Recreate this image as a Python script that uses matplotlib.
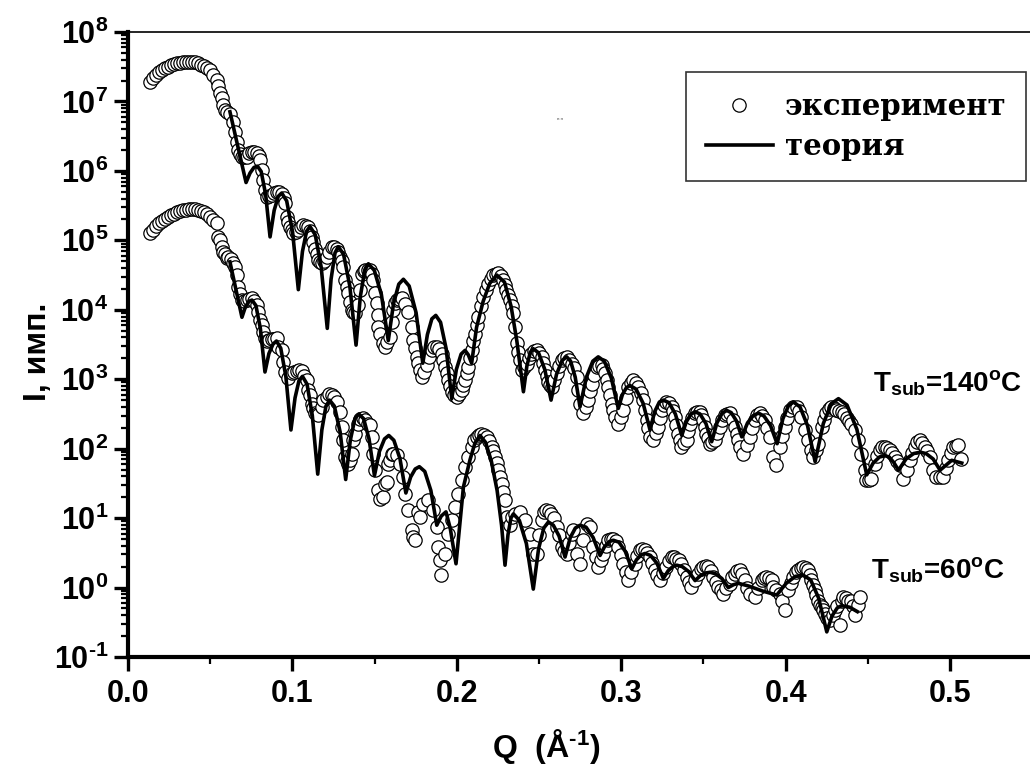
import numpy as np
import matplotlib
matplotlib.use('Agg')
import matplotlib.pyplot as plt
from matplotlib.ticker import LogLocator, FuncFormatter, MultipleLocator, NullFormatter

plt.rcParams['font.family'] = ['Liberation Sans', 'DejaVu Sans']
plt.rcParams['font.weight'] = 'bold'
plt.rcParams['mathtext.fontset'] = 'custom'
plt.rcParams['mathtext.rm'] = 'Liberation Sans:bold'
plt.rcParams['mathtext.it'] = 'Liberation Sans:bold'
plt.rcParams['mathtext.bf'] = 'Liberation Sans:bold'

### experiment, T_sub = 140 C
exp140_q = [0.0134, 0.0152, 0.0170, 0.0189, 0.0207, 0.0225, 0.0243, 0.0262, 0.0280, 0.0298, 0.0316, 0.0335,
            0.0353, 0.0371, 0.0389, 0.0408, 0.0426, 0.0444, 0.0462, 0.0481, 0.0499, 0.0519, 0.0540, 0.0550,
            0.0560, 0.0570, 0.0580, 0.0590, 0.0605, 0.0620, 0.0641, 0.0651, 0.0661, 0.0671, 0.0681, 0.0692,
            0.0706, 0.0722, 0.0736, 0.0752, 0.0766, 0.0783, 0.0794, 0.0803, 0.0813, 0.0823, 0.0833, 0.0844,
            0.0858, 0.0874, 0.0888, 0.0905, 0.0918, 0.0935, 0.0946, 0.0955, 0.0965, 0.0975, 0.0985, 0.0996,
            0.1005, 0.1019, 0.1036, 0.1051, 0.1066, 0.1082, 0.1097, 0.1107, 0.1117, 0.1127, 0.1137, 0.1148,
            0.1158, 0.1168, 0.1178, 0.1192, 0.1209, 0.1223, 0.1239, 0.1253, 0.1269, 0.1280, 0.1290, 0.1300,
            0.1310, 0.1320, 0.1330, 0.1340, 0.1350, 0.1361, 0.1371, 0.1381, 0.1396, 0.1411, 0.1422, 0.1433,
            0.1443, 0.1457, 0.1472, 0.1482, 0.1492, 0.1502, 0.1513, 0.1518, 0.1522, 0.1535, 0.1550, 0.1563,
            0.1578, 0.1593, 0.1603, 0.1613, 0.1623, 0.1634, 0.1648, 0.1664, 0.1684, 0.1704, 0.1725, 0.1735,
            0.1745, 0.1755, 0.1765, 0.1775, 0.1786, 0.1800, 0.1816, 0.1830, 0.1846, 0.1860, 0.1877, 0.1891,
            0.1907, 0.1917, 0.1927, 0.1938, 0.1947, 0.1958, 0.1968, 0.1982, 0.1998, 0.2012, 0.2029, 0.2039,
            0.2049, 0.2059, 0.2069, 0.2079, 0.2090, 0.2099, 0.2110, 0.2120, 0.2130, 0.2145, 0.2160, 0.2175,
            0.2191, 0.2206, 0.2221, 0.2236, 0.2251, 0.2267, 0.2282, 0.2292, 0.2302, 0.2312, 0.2323, 0.2333,
            0.2343, 0.2353, 0.2363, 0.2373, 0.2383, 0.2394, 0.2408, 0.2424, 0.2438, 0.2454, 0.2468, 0.2485,
            0.2499, 0.2515, 0.2525, 0.2535, 0.2546, 0.2555, 0.2566, 0.2576, 0.2590, 0.2607, 0.2621, 0.2637,
            0.2652, 0.2667, 0.2681, 0.2698, 0.2712, 0.2728, 0.2738, 0.2748, 0.2768, 0.2784, 0.2799, 0.2809,
            0.2820, 0.2834, 0.2850, 0.2864, 0.2880, 0.2890, 0.2900, 0.2911, 0.2920, 0.2931, 0.2941, 0.2951,
            0.2961, 0.2981, 0.2996, 0.3011, 0.3027, 0.3042, 0.3057, 0.3072, 0.3087, 0.3103, 0.3118, 0.3133,
            0.3143, 0.3154, 0.3163, 0.3174, 0.3194, 0.3209, 0.3224, 0.3234, 0.3245, 0.3259, 0.3275, 0.3289,
            0.3306, 0.3315, 0.3326, 0.3336, 0.3346, 0.3356, 0.3366, 0.3380, 0.3397, 0.3406, 0.3417, 0.3432,
            0.3447, 0.3462, 0.3478, 0.3488, 0.3498, 0.3508, 0.3518, 0.3528, 0.3539, 0.3554, 0.3569, 0.3584,
            0.3599, 0.3615, 0.3630, 0.3645, 0.3660, 0.3680, 0.3691, 0.3701, 0.3711, 0.3721, 0.3741, 0.3762,
            0.3782, 0.3797, 0.3812, 0.3827, 0.3843, 0.3858, 0.3873, 0.3888, 0.3903, 0.3923, 0.3944, 0.3964,
            0.3979, 0.3995, 0.4010, 0.4025, 0.4045, 0.4066, 0.4080, 0.4096, 0.4116, 0.4136, 0.4157, 0.4167,
            0.4183, 0.4197, 0.4218, 0.4232, 0.4248, 0.4262, 0.4278, 0.4293, 0.4309, 0.4323, 0.4340, 0.4354,
            0.4370, 0.4384, 0.4400, 0.4420, 0.4440, 0.4461, 0.4481, 0.4491, 0.4505, 0.4522, 0.4542, 0.4557,
            0.4572, 0.4587, 0.4603, 0.4618, 0.4633, 0.4648, 0.4663, 0.4679, 0.4694, 0.4714, 0.4735, 0.4755,
            0.4770, 0.4785, 0.4800, 0.4815, 0.4830, 0.4846, 0.4861, 0.4876, 0.4896, 0.4917, 0.4937, 0.4957,
            0.4973, 0.4987, 0.5004, 0.5018, 0.5034, 0.5048, 0.5069]
exp140_i = [1.92e7, 2.17e7, 2.40e7, 2.65e7, 2.83e7, 3.03e7, 3.18e7, 3.34e7, 3.46e7, 3.57e7, 3.63e7, 3.70e7,
            3.76e7, 3.76e7, 3.76e7, 3.70e7, 3.57e7, 3.40e7, 3.24e7, 3.03e7, 2.83e7, 2.40e7, 2.03e7, 1.67e7,
            1.31e7, 1.12e7, 8.9e6, 7.5e6, 7.0e6, 6.7e6, 5.1e6, 3.66e6, 2.62e6, 2.0e6, 1.75e6, 1.6e6,
            1.58e6, 1.6e6, 1.81e6, 1.88e6, 1.87e6, 1.79e6, 1.63e6, 1.43e6, 1.03e6, 7.4e5, 5.3e5, 4.2e5,
            4.3e5, 4.5e5, 4.8e5, 5.0e5, 4.9e5, 4.7e5, 4.1e5, 3.4e5, 2.18e5, 1.83e5, 1.56e5, 1.40e5,
            1.26e5, 1.31e5, 1.40e5, 1.55e5, 1.66e5, 1.63e5, 1.57e5, 1.36e5, 1.12e5, 9.4e4, 7.6e4, 6.3e4,
            5.2e4, 4.8e4, 4.65e4, 5.1e4, 5.8e4, 6.9e4, 8.1e4, 8.0e4, 7.6e4, 6.8e4, 5.8e4, 5.0e4,
            4.15e4, 2.67e4, 2.12e4, 1.72e4, 1.29e4, 9.9e3, 9.2e3, 8.9e3, 1.16e4, 1.92e4, 3.3e4, 3.6e4,
            3.7e4, 3.8e4, 3.7e4, 3.26e4, 2.67e4, 1.72e4, 1.24e4, 8.4e3, 5.7e3, 4.45e3, 3.30e3, 2.92e3,
            3.41e3, 4.06e3, 6.6e3, 9.9e3, 1.24e4, 1.37e4, 1.45e4, 1.46e4, 1.23e4, 9.3e3, 5.7e3, 3.65e3,
            2.80e3, 2.10e3, 1.70e3, 1.35e3, 1.08e3, 1.26e3, 1.59e3, 2.07e3, 2.62e3, 2.89e3, 2.92e3, 2.70e3,
            2.34e3, 1.88e3, 1.50e3, 1.22e3, 968, 792, 656, 598, 556, 608, 693, 820,
            968, 1220, 1500, 2010, 2620, 3530, 4550, 6000, 7900, 1.13e4, 1.53e4, 1.91e4,
            2.39e4, 2.76e4, 3.15e4, 3.31e4, 3.33e4, 3.05e4, 2.67e4, 2.26e4, 1.91e4, 1.62e4, 1.37e4, 1.13e4,
            8.9e3, 5.7e3, 3.27e3, 2.45e3, 1.88e3, 1.35e3, 1.49e3, 1.68e3, 2.01e3, 2.34e3, 2.53e3, 2.62e3,
            2.37e3, 2.10e3, 1.70e3, 1.35e3, 1.10e3, 914, 834, 774, 968, 1210, 1540, 1880,
            2040, 2100, 1910, 1680, 1440, 1080, 695, 447, 321, 395, 498, 671,
            867, 1140, 1500, 1570, 1590, 1390, 1210, 968, 774, 588, 447, 357,
            286, 230, 283, 357, 532, 774, 875, 968, 875, 774, 628, 498,
            357, 256, 197, 148, 132, 167, 206, 274, 357, 422, 471, 451,
            399, 346, 286, 217, 165, 132, 106, 120, 132, 178, 230, 274,
            321, 334, 338, 303, 256, 203, 165, 141, 118, 126, 132, 167,
            206, 256, 303, 318, 321, 256, 203, 165, 132, 106, 85, 112,
            148, 197, 256, 303, 321, 293, 256, 197, 148, 76, 58, 106,
            151, 206, 274, 357, 395, 399, 346, 286, 184, 132, 95, 76,
            95, 118, 206, 256, 321, 370, 399, 382, 357, 346, 338, 313,
            272, 248, 230, 184, 132, 85, 49, 35, 35, 37, 61, 78,
            95, 105, 106, 101, 95, 86, 76, 66, 58, 37, 50, 68,
            86, 106, 124, 132, 120, 106, 92, 76, 49, 39, 39, 39,
            52, 68, 86, 106, 110, 112, 72]

### experiment, T_sub = 60 C
exp60_q = [0.0134, 0.0152, 0.0170, 0.0189, 0.0207, 0.0225, 0.0243, 0.0262, 0.0280, 0.0298, 0.0316, 0.0335,
           0.0353, 0.0371, 0.0389, 0.0408, 0.0426, 0.0444, 0.0462, 0.0481, 0.0499, 0.0519, 0.0540, 0.0549,
           0.0560, 0.0570, 0.0580, 0.0590, 0.0600, 0.0610, 0.0626, 0.0640, 0.0651, 0.0661, 0.0671, 0.0681,
           0.0691, 0.0705, 0.0722, 0.0736, 0.0752, 0.0766, 0.0783, 0.0793, 0.0803, 0.0813, 0.0823, 0.0833,
           0.0843, 0.0857, 0.0874, 0.0888, 0.0904, 0.0914, 0.0934, 0.0944, 0.0955, 0.0975, 0.0995, 0.1009,
           0.1026, 0.1040, 0.1056, 0.1070, 0.1087, 0.1096, 0.1107, 0.1117, 0.1127, 0.1137, 0.1147, 0.1157,
           0.1178, 0.1187, 0.1208, 0.1222, 0.1238, 0.1253, 0.1269, 0.1289, 0.1300, 0.1309, 0.1319, 0.1330,
           0.1339, 0.1350, 0.1360, 0.1370, 0.1380, 0.1400, 0.1411, 0.1431, 0.1441, 0.1461, 0.1471, 0.1482,
           0.1491, 0.1502, 0.1522, 0.1532, 0.1552, 0.1563, 0.1573, 0.1583, 0.1593, 0.1603, 0.1613, 0.1634,
           0.1654, 0.1674, 0.1684, 0.1704, 0.1726, 0.1735, 0.1745, 0.1765, 0.1775, 0.1795, 0.1826, 0.1857,
           0.1877, 0.1887, 0.1898, 0.1905, 0.1928, 0.1948, 0.1968, 0.1988, 0.2008, 0.2029, 0.2049, 0.2069,
           0.2090, 0.2104, 0.2120, 0.2134, 0.2150, 0.2164, 0.2181, 0.2195, 0.2211, 0.2221, 0.2231, 0.2242,
           0.2252, 0.2262, 0.2272, 0.2283, 0.2293, 0.2303, 0.2323, 0.2338, 0.2353, 0.2383, 0.2414, 0.2444,
           0.2464, 0.2485, 0.2499, 0.2515, 0.2529, 0.2545, 0.2559, 0.2575, 0.2590, 0.2607, 0.2621, 0.2637,
           0.2652, 0.2667, 0.2681, 0.2698, 0.2707, 0.2728, 0.2748, 0.2768, 0.2789, 0.2809, 0.2830, 0.2845,
           0.2859, 0.2875, 0.2890, 0.2905, 0.2920, 0.2935, 0.2951, 0.2966, 0.2981, 0.2996, 0.3011, 0.3027,
           0.3042, 0.3062, 0.3083, 0.3098, 0.3113, 0.3128, 0.3143, 0.3159, 0.3174, 0.3189, 0.3204, 0.3219,
           0.3234, 0.3254, 0.3275, 0.3289, 0.3306, 0.3320, 0.3336, 0.3350, 0.3366, 0.3380, 0.3397, 0.3411,
           0.3427, 0.3447, 0.3467, 0.3483, 0.3498, 0.3513, 0.3528, 0.3543, 0.3559, 0.3574, 0.3589, 0.3604,
           0.3620, 0.3640, 0.3660, 0.3675, 0.3691, 0.3706, 0.3721, 0.3736, 0.3752, 0.3767, 0.3782, 0.3812,
           0.3832, 0.3853, 0.3867, 0.3883, 0.3897, 0.3914, 0.3924, 0.3944, 0.3964, 0.3979, 0.3995, 0.4015,
           0.4030, 0.4045, 0.4061, 0.4076, 0.4091, 0.4106, 0.4121, 0.4136, 0.4146, 0.4157, 0.4167, 0.4177,
           0.4187, 0.4197, 0.4208, 0.4218, 0.4228, 0.4239, 0.4254, 0.4270, 0.4285, 0.4300, 0.4315, 0.4331,
           0.4340, 0.4350, 0.4366, 0.4381, 0.4396, 0.4411, 0.4421, 0.4437, 0.4453]
exp60_i = [1.26e5, 1.43e5, 1.60e5, 1.77e5, 1.92e5, 2.06e5, 2.19e5, 2.31e5, 2.43e5, 2.55e5, 2.64e5, 2.72e5,
           2.77e5, 2.82e5, 2.82e5, 2.82e5, 2.77e5, 2.68e5, 2.55e5, 2.38e5, 2.18e5, 1.95e5, 1.75e5, 1.12e5,
           1.01e5, 8.1e4, 6.8e4, 6.3e4, 5.6e4, 5.7e4, 5.4e4, 4.65e4, 4.15e4, 3.15e4, 2.14e4, 1.68e4,
           1.37e4, 1.35e4, 1.37e4, 1.45e4, 1.46e4, 1.33e4, 1.16e4, 9.2e3, 7.1e3, 6.0e3, 4.75e3, 3.9e3,
           3.53e3, 3.65e3, 3.84e3, 3.78e3, 3.9e3, 2.92e3, 2.62e3, 1.76e3, 1.26e3, 1.03e3, 1.24e3, 1.28e3,
           1.30e3, 1.35e3, 1.30e3, 1.10e3, 968, 695, 588, 447, 382, 324, 313, 303,
           399, 498, 556, 608, 588, 551, 467, 334, 206, 132, 76, 66,
           61, 68, 85, 132, 165, 230, 265, 272, 256, 230, 217, 148,
           85, 49, 25, 19, 20, 31, 33, 61, 68, 85, 85, 82,
           61, 39, 22.5, 12.9, 6.7, 5.3, 4.8, 12.1, 10.4, 16.2, 18, 12.9,
           7.4, 3.8, 2.47, 1.5, 3.08, 6.0, 9.3, 14.5, 22.5, 35, 54, 76,
           106, 132, 148, 158, 165, 158, 148, 128, 106, 92, 76, 62,
           49, 39, 31, 24, 18, 10.4, 7.9, 10.3, 11.6, 12.2, 9.3, 6.0,
           3.08, 3.08, 5.65, 9.3, 12.1, 12.9, 12.5, 11.6, 9.9, 7.4, 5.65, 3.8,
           3.33, 3.08, 4.34, 6.0, 6.7, 3.08, 2.21, 4.8, 8.3, 7.4, 3.8, 2.72,
           1.97, 2.47, 3.08, 3.93, 4.8, 5.0, 5.07, 4.63, 3.8, 2.91, 2.21, 1.66,
           1.27, 1.66, 2.21, 2.82, 3.44, 3.55, 3.44, 3.11, 2.75, 2.23, 1.77, 1.5,
           1.27, 1.6, 1.97, 2.39, 2.75, 2.72, 2.61, 2.47, 2.21, 1.77, 1.42, 1.19,
           1.02, 1.27, 1.58, 1.83, 1.97, 2.02, 1.97, 1.71, 1.42, 1.19, 1.02, 0.91,
           0.82, 0.97, 1.14, 1.40, 1.58, 1.71, 1.77, 1.55, 1.27, 1.0, 0.82, 0.73,
           0.97, 1.27, 1.36, 1.42, 1.36, 1.27, 1.02, 0.91, 0.82, 0.63, 0.47, 0.91,
           1.15, 1.42, 1.66, 1.77, 1.92, 1.97, 1.89, 1.77, 1.5, 1.27, 1.08, 0.91,
           0.77, 0.65, 0.57, 0.52, 0.47, 0.42, 0.37, 0.34, 0.40, 0.47, 0.55, 0.285,
           0.65, 0.73, 0.70, 0.65, 0.65, 0.55, 0.40, 0.57, 0.73]

### theory, T_sub = 140 C
th140_q = [0.0620, 0.0718, 0.0742, 0.0766, 0.0787, 0.0810, 0.0837, 0.0864, 0.0889, 0.0914, 0.0935, 0.0965,
           0.1001, 0.1036, 0.1061, 0.1086, 0.1107, 0.1139, 0.1175, 0.1212, 0.1235, 0.1259, 0.1279, 0.1311,
           0.1349, 0.1387, 0.1413, 0.1440, 0.1462, 0.1498, 0.1541, 0.1583, 0.1615, 0.1647, 0.1675, 0.1710,
           0.1752, 0.1793, 0.1821, 0.1848, 0.1872, 0.1901, 0.1935, 0.1969, 0.1997, 0.2026, 0.2050, 0.2070,
           0.2090, 0.2120, 0.2160, 0.2200, 0.2243, 0.2290, 0.2330, 0.2365, 0.2390, 0.2405, 0.2426, 0.2447,
           0.2465, 0.2497, 0.2535, 0.2573, 0.2606, 0.2640, 0.2668, 0.2692, 0.2720, 0.2749, 0.2788, 0.2827,
           0.2860, 0.2897, 0.2939, 0.2982, 0.3007, 0.3032, 0.3054, 0.3090, 0.3133, 0.3175, 0.3203, 0.3232,
           0.3256, 0.3290, 0.3329, 0.3368, 0.3396, 0.3425, 0.3449, 0.3479, 0.3515, 0.3550, 0.3582, 0.3614,
           0.3642, 0.3669, 0.3701, 0.3733, 0.3768, 0.3803, 0.3834, 0.3868, 0.3908, 0.3948, 0.3983, 0.4017,
           0.4047, 0.4087, 0.4133, 0.4179, 0.4229, 0.4278, 0.4321, 0.4373, 0.4433, 0.4493, 0.4532, 0.4571,
           0.4605, 0.4629, 0.4658, 0.4686, 0.4732, 0.4778, 0.4818, 0.4854, 0.4897, 0.4939, 0.5010, 0.5071]
th140_i = [7.1e6, 6.8e5, 9.3e5, 1.12e6, 1.17e6, 9.8e5, 4.6e5, 1.12e5, 2.7e5, 4.3e5, 4.8e5, 3.7e5,
           1.32e5, 1.95e4, 6.9e4, 1.35e5, 1.58e5, 1.2e5, 4.1e4, 5.4e3, 2.75e4, 6.6e4, 8.1e4, 6.3e4,
           2.2e4, 3.1e3, 1.55e4, 3.7e4, 4.6e4, 3.7e4, 1.66e4, 3.6e3, 1.23e4, 2.34e4, 2.75e4, 2.2e4,
           9.1e3, 1.7e3, 4.4e3, 7.4e3, 8.3e3, 6.6e3, 2.75e3, 525, 1.38e3, 2.3e3, 2.6e3, 2.24e3,
           1.7e3, 5.6e3, 1.32e4, 2.4e4, 3.16e4, 2.5e4, 1.12e4, 3.55e3, 1.26e3, 660, 1.55e3, 2.45e3,
           2.75e3, 2.4e3, 1.38e3, 500, 1.17e3, 1.86e3, 2.1e3, 1.82e3, 1.07e3, 400, 1.07e3, 1.82e3,
           2.1e3, 1.82e3, 1.05e3, 380, 600, 760, 810, 720, 450, 186, 340, 470,
           500, 460, 316, 155, 245, 316, 340, 316, 230, 126, 235, 325,
           355, 330, 250, 148, 235, 300, 325, 295, 215, 118, 270, 415,
           470, 400, 215, 65, 230, 445, 525, 425, 190, 42, 62, 76,
           79, 76, 63, 49, 71, 85, 89, 85, 71, 49, 68, 62]

### theory, T_sub = 60 C
th60_q = [0.0620, 0.0693, 0.0714, 0.0736, 0.0754, 0.0778, 0.0805, 0.0833, 0.0857, 0.0882, 0.0903, 0.0929,
          0.0960, 0.0991, 0.1016, 0.1040, 0.1061, 0.1089, 0.1121, 0.1154, 0.1179, 0.1204, 0.1226, 0.1255,
          0.1290, 0.1324, 0.1352, 0.1380, 0.1404, 0.1433, 0.1466, 0.1499, 0.1529, 0.1560, 0.1586, 0.1617,
          0.1654, 0.1690, 0.1719, 0.1747, 0.1772, 0.1805, 0.1842, 0.1878, 0.1905, 0.1934, 0.1960, 0.1995,
          0.2040, 0.2080, 0.2110, 0.2141, 0.2175, 0.2210, 0.2245, 0.2272, 0.2293, 0.2311, 0.2329, 0.2344,
          0.2380, 0.2423, 0.2465, 0.2497, 0.2529, 0.2557, 0.2587, 0.2622, 0.2658, 0.2690, 0.2721, 0.2749,
          0.2786, 0.2829, 0.2871, 0.2899, 0.2928, 0.2952, 0.2986, 0.3025, 0.3064, 0.3092, 0.3121, 0.3145,
          0.3178, 0.3217, 0.3256, 0.3285, 0.3313, 0.3338, 0.3371, 0.3410, 0.3449, 0.3481, 0.3513, 0.3540,
          0.3573, 0.3612, 0.3651, 0.3683, 0.3713, 0.3776, 0.3860, 0.3946, 0.4003, 0.4059, 0.4108, 0.4152,
          0.4200, 0.4250, 0.4282, 0.4314, 0.4341, 0.4390, 0.4436]
th60_i = [4.9e4, 7.8e3, 1.1e4, 1.32e4, 1.38e4, 1.15e4, 5.4e3, 1.27e3, 2.34e3, 3.2e3, 3.55e3, 2.8e3,
          1.1e3, 186, 540, 955, 1.1e3, 850, 300, 43, 186, 410, 500, 410,
          175, 36, 132, 270, 316, 270, 138, 41, 91, 138, 155, 132,
          72, 23, 39, 51, 55, 47, 25, 7.9, 10.7, 12.3, 7.1, 2.2,
          28, 69, 120, 155, 123, 66, 25, 7.9, 2.1, 5.75, 10, 11.5,
          9.3, 4.3, 0.95, 3.6, 7.2, 8.8, 7.9, 5.5, 2.75, 5.25, 7.2, 7.9,
          7.4, 5.25, 2.9, 3.9, 4.6, 4.8, 4.5, 3.3, 1.86, 2.5, 2.95, 3.1,
          2.9, 2.24, 1.35, 1.74, 2.0, 2.1, 2.0, 1.7, 1.26, 1.48, 1.62, 1.66,
          1.58, 1.35, 1.0, 1.1, 1.15, 1.05, 0.89, 0.78, 1.15, 1.45, 1.5, 1.29,
          0.71, 0.23, 0.39, 0.51, 0.55, 0.52, 0.45]

legend_labels = ['эксперимент', 'теория']
curve_labels = ['T$_{sub}$=140$^{o}$C', 'T$_{sub}$=60$^{o}$C']

fig = plt.figure(figsize=(10.30, 7.71), dpi=100)
ax = fig.add_axes([128/1030, 1-657/771, 904.3/1030, 625/771])

mk = dict(linestyle='none', marker='o', markersize=9.6, markerfacecolor='white',
          markeredgecolor='black', markeredgewidth=0.9, zorder=2)
h1, = ax.plot(exp140_q, exp140_i, **mk)
ax.plot(exp60_q, exp60_i, **mk)
h2, = ax.plot(th140_q, th140_i, color='black', lw=2.6, zorder=3)
ax.plot(th60_q, th60_i, color='black', lw=2.6, zorder=3)

ax.set_yscale('log')
ax.set_xlim(0, 0.55)
ax.set_ylim(1e-1, 1e8)

ax.yaxis.set_major_locator(LogLocator(base=10, numticks=20))
ax.yaxis.set_minor_locator(LogLocator(base=10, subs=np.arange(2, 10), numticks=200))
ax.yaxis.set_major_formatter(FuncFormatter(
    lambda v, p: '10$^{%s}$' % str(int(round(np.log10(v)))).replace('-', '\u2010')))
ax.yaxis.set_minor_formatter(NullFormatter())
ax.xaxis.set_major_locator(MultipleLocator(0.1))
ax.xaxis.set_minor_locator(MultipleLocator(0.05))
ax.xaxis.set_major_formatter(FuncFormatter(lambda v, p: '%.1f' % v))

ax.tick_params(which='major', direction='out', length=10, width=2.4, labelsize=22, pad=4)
ax.tick_params(which='minor', direction='out', length=5, width=1.6)
ax.tick_params(axis='x', which='major', pad=6)

ax.spines['left'].set_linewidth(3)
ax.spines['bottom'].set_linewidth(3)
ax.spines['top'].set_linewidth(1.2)
ax.spines['right'].set_visible(False)

fig.text(38/1030, 1-352/771, 'I, имп.', rotation=90, ha='center', va='center', fontsize=23, fontweight='bold')
fig.text(546/1030, 1-746/771, 'Q  (Å$^{\u20101}$)', ha='center', va='center', fontsize=23, fontweight='bold')

ax.text(0.4530, 671, curve_labels[0], fontsize=20, ha='left', va='baseline')
ax.text(0.4520, 1.36, curve_labels[1], fontsize=20, ha='left', va='baseline')

fig.text(557/1030, 1-120/771, 'в п', fontsize=3, color='gray')

leg = ax.legend([h1, h2], legend_labels, loc='upper right', bbox_to_anchor=(1026/1030, 1-72/771),
                bbox_transform=fig.transFigure, borderaxespad=0, fancybox=False, frameon=True,
                prop={'family': 'DejaVu Serif', 'weight': 'bold', 'size': 21},
                handlelength=2.3, handletextpad=0.4, labelspacing=0.38, borderpad=0.68)
leg.get_frame().set_edgecolor('black')
leg.get_frame().set_linewidth(1.2)

fig.savefig('out.png', dpi=100)
